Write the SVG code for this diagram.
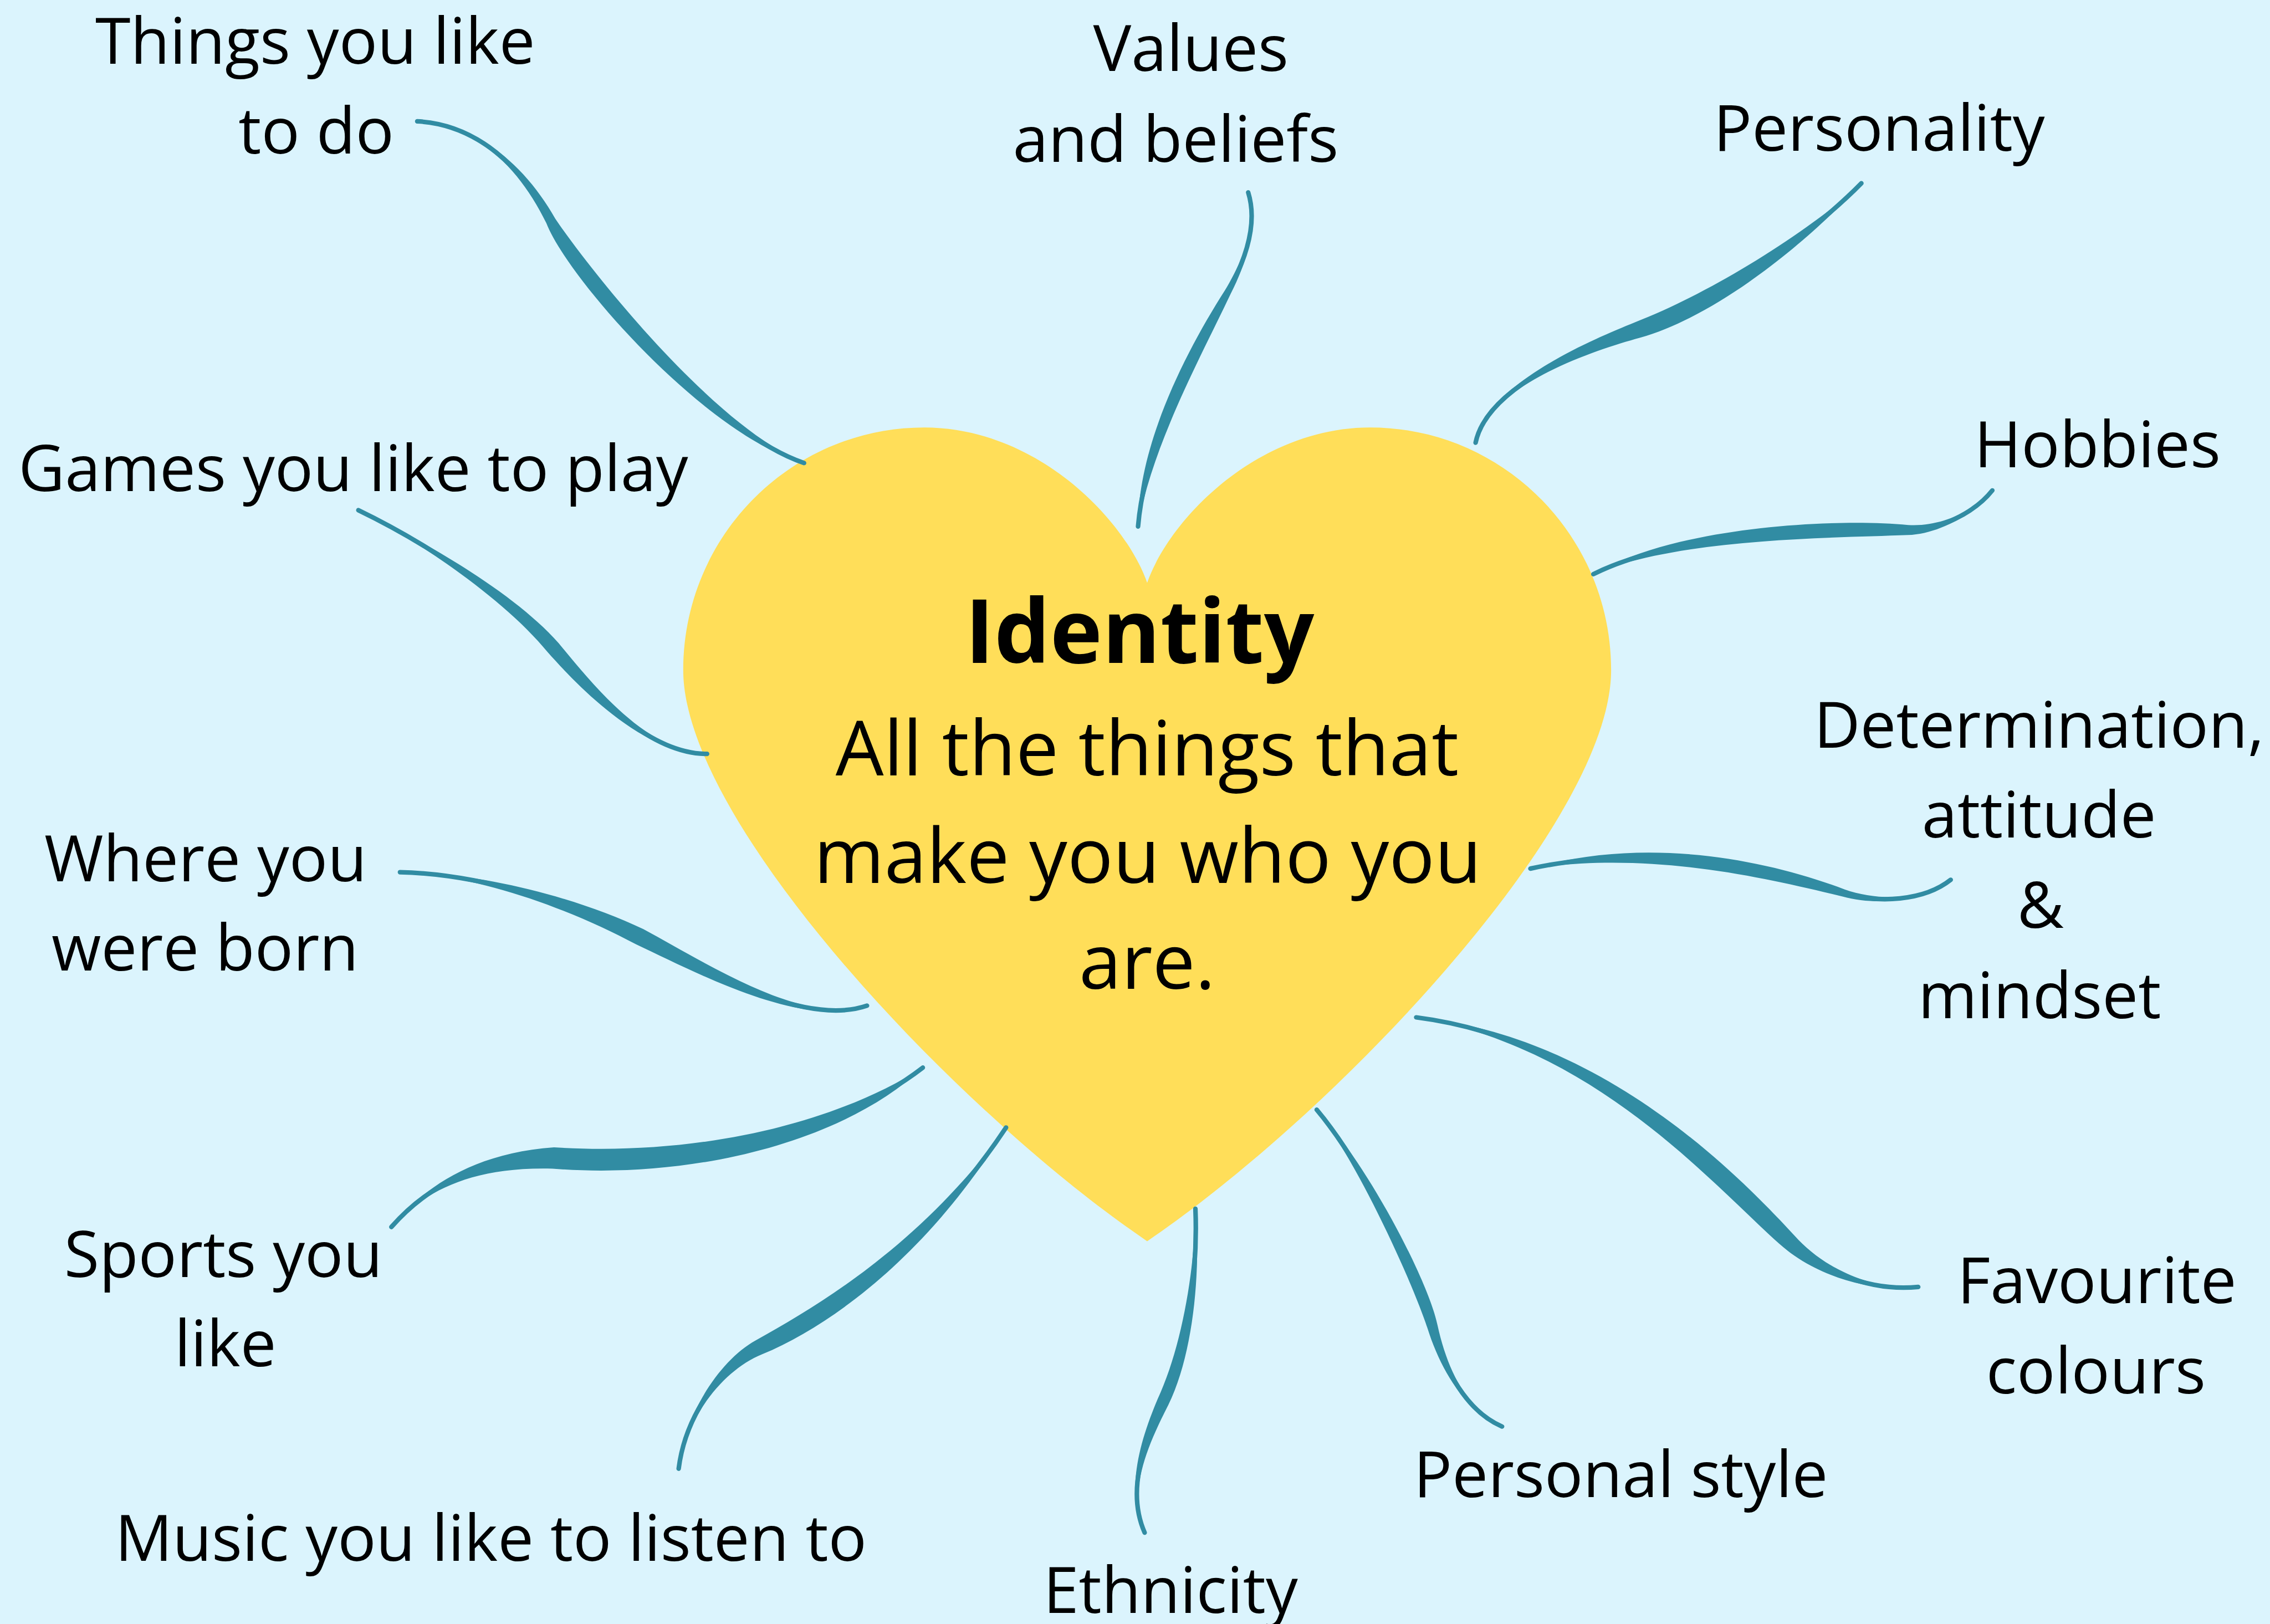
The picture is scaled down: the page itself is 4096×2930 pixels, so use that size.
<svg xmlns="http://www.w3.org/2000/svg" xmlns:xlink="http://www.w3.org/1999/xlink" width="4096" height="2930" viewBox="0 0 4096 2930">
  <style>
    .bg { fill: #dbf4fd; }
    .heart { fill: #ffde59; }
    .lbl { font-family: "Open Sans", "Noto Sans", sans-serif; font-size: 126px; fill: #000; text-anchor: middle; }
    .title { font-family: "Open Sans", "Noto Sans", sans-serif; font-size: 174px; font-weight: 700; fill: #000; text-anchor: middle; }
    .sub { font-family: "Open Sans", "Noto Sans", sans-serif; font-size: 150px; fill: #000; text-anchor: middle; }
    .line { fill: none; stroke: #318ca3; stroke-width: 9px; stroke-linecap: round; stroke-linejoin: round; }
    .lens { fill: #318ca3; stroke: none; }
  </style>
  <defs>
    <!-- centre lines of the brush strokes, label end first -->
    <path id="p-things" d="M 822 239 C 940 245, 1030 330, 1085 435 C 1140 540, 1400 850, 1584 912"/>
    <path id="p-values" d="M 2459 379 C 2478 440, 2455 510, 2419 575 C 2347 705, 2255 880, 2242 1037"/>
    <path id="p-personality" d="M 3667 361 C 3580 450, 3390 595, 3226 650 C 3128 683, 2930 760, 2907 872"/>
    <path id="p-hobbies" d="M 3925 966 C 3890 1010, 3820 1045, 3759 1044 C 3600 1040, 3300 1050, 3139 1131"/>
    <path id="p-determination" d="M 3843 1733 C 3790 1775, 3700 1780, 3632 1759 C 3480 1712, 3250 1660, 3015 1711"/>
    <path id="p-colours" d="M 3779 2535 C 3680 2545, 3580 2500, 3525 2446 C 3400 2325, 3150 2050, 2790 2004"/>
    <path id="p-style" d="M 2959 2810 C 2890 2780, 2845 2700, 2822 2613 C 2800 2530, 2690 2300, 2594 2186"/>
    <path id="p-ethnicity" d="M 2255 3019 C 2220 2940, 2250 2850, 2291 2762 C 2340 2660, 2360 2500, 2355 2381"/>
    <path id="p-music" d="M 1337 2893 C 1350 2790, 1420 2690, 1495 2654 C 1640 2584, 1830 2450, 1982 2221"/>
    <path id="p-sports" d="M 771 2417 C 830 2350, 920 2285, 1090 2281 C 1350 2300, 1640 2240, 1818 2103"/>
    <path id="p-born" d="M 788 1718 C 950 1722, 1130 1780, 1260 1845 C 1380 1905, 1580 2025, 1708 1981"/>
    <path id="p-games" d="M 706 1005 C 820 1060, 1000 1170, 1090 1276 C 1170 1370, 1280 1485, 1393 1485"/>
  </defs>

  <rect class="bg" x="0" y="0" width="4096" height="2930"/>

  <g transform="scale(0.915921)">
    <!-- central heart -->
    <g id="identity">
      <path class="heart" d="M 2260 1148 C 2215 1020, 2040 842, 1821 842 C 1559 842, 1346 1056, 1346 1320 C 1346 1620, 1885 2190, 2260 2445 C 2635 2190, 3174 1620, 3174 1320 C 3174 1056, 2961 842, 2699 842 C 2480 842, 2305 1020, 2260 1148 Z"/>
      <text class="title" x="2245" y="1306">Identity</text>
      <text class="sub" x="2260" y="1527">All the things that</text>
      <text class="sub" x="2261" y="1739">make you who you</text>
      <text class="sub" x="2260" y="1948">are.</text>
    </g>

    <!-- brush connectors: thin round-capped centre line plus a swelling lens -->
    <g id="connectors">
      <g id="c-things">
        <use xlink:href="#p-things" class="line"/>
        <path class="lens" d="M 822 239 C 939.9 246.8, 1024.5 332.9, 1076.3 439.5 C 1119.5 550.7, 1396 861.8, 1584 912 C 1404 838.2, 1160.5 529.3, 1093.7 430.5 C 1035.5 327.1, 940.1 243.2, 822 239 Z"/>
      </g>
      <g id="c-values">
        <use xlink:href="#p-values" class="line"/>
        <path class="lens" d="M 2459 379 C 2476.8 440.4, 2451.6 508.1, 2413.2 571.8 C 2333.1 697.3, 2241.8 878.9, 2242 1037 C 2268.3 881.1, 2360.9 712.7, 2424.8 578.2 C 2458.4 511.9, 2479.2 439.6, 2459 379 Z"/>
      </g>
      <g id="c-personality">
        <use xlink:href="#p-personality" class="line"/>
        <path class="lens" d="M 3667 361 C 3575.8 445.8, 3382.4 572.3, 3220.9 634.8 C 3124.8 673.4, 2927 759.4, 2907 872 C 2933 760.6, 3131.2 692.6, 3231.1 665.2 C 3397.6 617.7, 3584.3 454.2, 3667 361 Z"/>
      </g>
      <g id="c-hobbies">
        <use xlink:href="#p-hobbies" class="line"/>
        <path class="lens" d="M 3925 966 C 3888.1 1008.5, 3820.2 1038.3, 3759.2 1034.1 C 3600.5 1019.9, 3294.8 1039.6, 3139 1131 C 3305.2 1060.4, 3599.5 1060.1, 3758.8 1053.9 C 3819.8 1051.8, 3891.9 1011.5, 3925 966 Z"/>
      </g>
      <g id="c-determination">
        <use xlink:href="#p-determination" class="line"/>
        <path class="lens" d="M 3843 1733 C 3789 1773.7, 3701.4 1775.4, 3634.1 1752.1 C 3485.2 1695.2, 3246.6 1644.4, 3015 1711 C 3253.4 1675.6, 3474.8 1728.8, 3629.9 1765.9 C 3698.6 1784.6, 3791 1776.3, 3843 1733 Z"/>
      </g>
      <g id="c-colours">
        <use xlink:href="#p-colours" class="line"/>
        <path class="lens" d="M 3779 2535 C 3679.7 2541.9, 3587.3 2492.4, 3536 2434.6 C 3417.7 2306.8, 3151.6 2037.4, 2790 2004 C 3148.4 2062.6, 3382.3 2343.3, 3514 2457.4 C 3572.7 2507.6, 3680.3 2548.1, 3779 2535 Z"/>
      </g>
      <g id="c-style">
        <use xlink:href="#p-style" class="line"/>
        <path class="lens" d="M 2959 2810 C 2890.7 2778.3, 2851.2 2698.3, 2832 2610.4 C 2814.9 2526, 2696 2295, 2594 2186 C 2684 2305, 2785.1 2534, 2812 2615.7 C 2838.8 2701.7, 2889.3 2781.7, 2959 2810 Z"/>
      </g>
      <g id="c-ethnicity">
        <use xlink:href="#p-ethnicity" class="line"/>
        <path class="lens" d="M 2255 3019 C 2222.2 2939, 2257.6 2853.6, 2301.8 2767.2 C 2351.8 2665.7, 2366 2499.7, 2355 2381 C 2354 2500.3, 2328.2 2654.3, 2280.2 2756.8 C 2242.4 2846.4, 2217.8 2941, 2255 3019 Z"/>
      </g>
      <g id="c-music">
        <use xlink:href="#p-music" class="line"/>
        <path class="lens" d="M 1337 2893 C 1353 2790.4, 1424.3 2699, 1501.6 2667.6 C 1650.4 2605.6, 1840 2456.6, 1982 2221 C 1820 2443.4, 1629.6 2562.4, 1488.4 2640.4 C 1415.7 2681, 1347 2789.6, 1337 2893 Z"/>
      </g>
      <g id="c-sports">
        <use xlink:href="#p-sports" class="line"/>
        <path class="lens" d="M 771 2417 C 832.3 2352.1, 919.1 2297.6, 1088.5 2302 C 1348.3 2323.2, 1652.9 2256.7, 1818 2103 C 1627.1 2223.3, 1351.7 2276.8, 1091.5 2260 C 920.9 2272.4, 827.7 2347.9, 771 2417 Z"/>
      </g>
      <g id="c-born">
        <use xlink:href="#p-born" class="line"/>
        <path class="lens" d="M 788 1718 C 949.9 1725.3, 1124.1 1791.8, 1252.6 1859.8 C 1374.1 1916.8, 1581.1 2028.1, 1708 1981 C 1578.9 2021.9, 1385.9 1893.2, 1267.4 1830.2 C 1135.9 1768.2, 950.1 1718.7, 788 1718 Z"/>
      </g>
      <g id="c-games">
        <use xlink:href="#p-games" class="line"/>
        <path class="lens" d="M 706 1005 C 818.8 1062.5, 991.5 1177.3, 1079.3 1285.1 C 1161.5 1377.3, 1280 1487.8, 1393 1485 C 1280 1482.2, 1178.6 1362.7, 1100.7 1266.9 C 1008.6 1162.7, 821.2 1057.5, 706 1005 Z"/>
      </g>
    </g>

    <!-- topic labels -->
    <g id="things">
      <text class="lbl" x="621" y="125">Things you like</text>
      <text class="lbl" x="623" y="302">to do</text>
    </g>
    <g id="values">
      <text class="lbl" x="2346" y="140">Values</text>
      <text class="lbl" x="2316" y="319">and beliefs</text>
    </g>
    <g id="personality">
      <text class="lbl" x="3702" y="297">Personality</text>
    </g>
    <g id="hobbies">
      <text class="lbl" x="4132" y="920">Hobbies</text>
    </g>
    <g id="games">
      <text class="lbl" x="696" y="967">Games you like to play</text>
    </g>
    <g id="determination">
      <text class="lbl" x="4017" y="1473">Determination,</text>
      <text class="lbl" x="4017" y="1650">attitude</text>
      <text class="lbl" x="4020" y="1828">&amp;</text>
      <text class="lbl" x="4018" y="2006">mindset</text>
    </g>
    <g id="born">
      <text class="lbl" x="405" y="1736">Where you</text>
      <text class="lbl" x="404" y="1912">were born</text>
    </g>
    <g id="sports">
      <text class="lbl" x="440" y="2515">Sports you</text>
      <text class="lbl" x="444" y="2691">like</text>
    </g>
    <g id="colours">
      <text class="lbl" x="4131" y="2567">Favourite</text>
      <text class="lbl" x="4129" y="2745">colours</text>
    </g>
    <g id="music">
      <text class="lbl" x="967" y="3075">Music you like to listen to</text>
    </g>
    <g id="style">
      <text class="lbl" x="3193" y="2949">Personal style</text>
    </g>
    <g id="ethnicity">
      <text class="lbl" x="2306" y="3177">Ethnicity</text>
    </g>
  </g>
</svg>
